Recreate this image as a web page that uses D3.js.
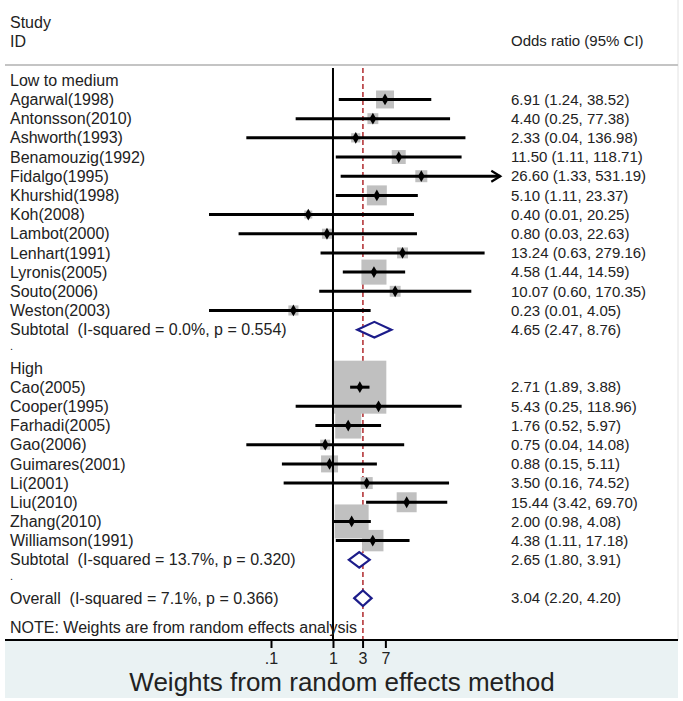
<!DOCTYPE html>
<html>
<head>
<meta charset="utf-8">
<script src="https://cdn.jsdelivr.net/npm/d3@7"></script>
<style>
  html, body { margin: 0; padding: 0; background: #ffffff; }
  svg { display: block; }
  text { font-family: Arial, "Liberation Sans", sans-serif; fill: #222; white-space: pre; }
</style>
</head>
<body>
<svg id="chart" width="683" height="701"></svg>
<script>
// ---------------- data ----------------
const group1Label = "Low to medium";
const group1Studies = ["Agarwal(1998)", "Antonsson(2010)", "Ashworth(1993)", "Benamouzig(1992)", "Fidalgo(1995)", "Khurshid(1998)", "Koh(2008)", "Lambot(2000)", "Lenhart(1991)", "Lyronis(2005)", "Souto(2006)", "Weston(2003)"];
const group1OR  = [6.91, 4.40, 2.33, 11.50, 26.60, 5.10, 0.40, 0.80, 13.24, 4.58, 10.07, 0.23];
const group1Lo  = [1.24, 0.25, 0.04, 1.11, 1.33, 1.11, 0.01, 0.03, 0.63, 1.44, 0.60, 0.01];
const group1Hi  = [38.52, 77.38, 136.98, 118.71, 531.19, 23.37, 20.25, 22.63, 279.16, 14.59, 170.35, 4.05];
const group1Weight = [3.8, 1.4, 1.0, 2.3, 1.7, 4.7, 0.75, 1.2, 1.4, 7.4, 1.4, 1.2];
const group1Subtotal = { label: "Subtotal  (I-squared = 0.0%, p = 0.554)", or: 4.65, lo: 2.47, hi: 8.76 };

const group2Label = "High";
const group2Studies = ["Cao(2005)", "Cooper(1995)", "Farhadi(2005)", "Gao(2006)", "Guimares(2001)", "Li(2001)", "Liu(2010)", "Zhang(2010)", "Williamson(1991)"];
const group2OR  = [2.71, 5.43, 1.76, 0.75, 0.88, 3.50, 15.44, 2.00, 4.38];
const group2Lo  = [1.89, 0.25, 0.52, 0.04, 0.15, 0.16, 3.42, 0.98, 1.11];
const group2Hi  = [3.88, 118.96, 5.97, 14.08, 5.11, 74.52, 69.70, 4.08, 17.18];
const group2Weight = [33.1, 0.75, 8.0, 1.2, 3.4, 1.7, 4.7, 13.6, 5.4];
const group2Subtotal = { label: "Subtotal  (I-squared = 13.7%, p = 0.320)", or: 2.65, lo: 1.80, hi: 3.91 };

const overall = { label: "Overall  (I-squared = 7.1%, p = 0.366)", or: 3.04, lo: 2.20, hi: 4.20 };

const tickValues = [0.1, 1, 3, 7];
const tickLabels = [".1", "1", "3", "7"];
const axisMin = 0.01, axisMax = 500;

const headerLeft = ["Study", "ID"];
const headerRight = "Odds ratio (95% CI)";
const noteText = "NOTE: Weights are from random effects analysis";
const axisTitle = "Weights from random effects method";

// ---------------- build rows ----------------
const fmt = d3.format(".2f");
const rows = [];
rows.push({ type: "group", label: group1Label });
group1Studies.forEach((s, i) => rows.push({ type: "study", label: s, or: group1OR[i], lo: group1Lo[i], hi: group1Hi[i], w: group1Weight[i] }));
rows.push(Object.assign({ type: "diamond" }, group1Subtotal));
rows.push({ type: "blank", label: "." });
rows.push({ type: "group", label: group2Label });
group2Studies.forEach((s, i) => rows.push({ type: "study", label: s, or: group2OR[i], lo: group2Lo[i], hi: group2Hi[i], w: group2Weight[i] }));
rows.push(Object.assign({ type: "diamond" }, group2Subtotal));
rows.push({ type: "blank", label: "." });
rows.push(Object.assign({ type: "diamond" }, overall));

// ---------------- layout ----------------
const svg = d3.select("#chart");
const W = 683, H = 701;
const panelL = 5, panelR = 678, axisY = 640, bottomY = 698;
const leftFont = 16, rightFont = 15;

const x = d3.scaleLog().domain([axisMin, axisMax]).range([209, 500.3]);
const y = d3.scaleLinear().domain([0, rows.length - 1]).range([80.3, 80.3 + 19.18 * (rows.length - 1)]);
const boxSize = d3.scaleSqrt().domain([0, d3.max(group1Weight.concat(group2Weight))]).range([0, 53]);

// background regions
svg.append("rect").attr("x", 0).attr("y", 0).attr("width", W).attr("height", H).attr("fill", "#ffffff");
svg.append("rect").attr("x", panelL).attr("y", axisY).attr("width", panelR - panelL).attr("height", bottomY - axisY).attr("fill", "#eaf2f3");
svg.append("line").attr("x1", panelR).attr("x2", panelR).attr("y1", 0).attr("y2", axisY).attr("stroke", "#e2e2e2").attr("stroke-width", 1);

// header
svg.append("text").attr("x", 10).attr("y", 22).attr("dy", "0.35em").attr("font-size", leftFont).text(headerLeft[0]);
svg.append("text").attr("x", 10).attr("y", 41).attr("dy", "0.35em").attr("font-size", leftFont).text(headerLeft[1]);
svg.append("text").attr("x", 511).attr("y", 41).attr("dy", "0.35em").attr("font-size", rightFont).text(headerRight);
svg.append("line").attr("x1", panelL).attr("x2", panelR).attr("y1", 65).attr("y2", 65).attr("stroke", "#c4c4c4").attr("stroke-width", 2);

const plot = svg.append("g");

// weight boxes
const studyRows = rows.map((r, i) => Object.assign({ idx: i }, r)).filter(r => r.type === "study");
plot.selectAll("rect.box").data(studyRows).enter().append("rect")
  .attr("class", "box")
  .attr("x", d => x(d.or) - boxSize(d.w) / 2)
  .attr("y", d => y(d.idx) - boxSize(d.w) / 2)
  .attr("width", d => boxSize(d.w))
  .attr("height", d => boxSize(d.w))
  .attr("fill", "#c0c0c0");

// reference line at overall estimate (boxes drawn over it)
const refTop = 68;
plot.insert("line", "rect.box")
  .attr("x1", x(overall.or)).attr("x2", x(overall.or))
  .attr("y1", refTop).attr("y2", axisY)
  .attr("stroke", "#b5363a").attr("stroke-width", 1.6).attr("stroke-dasharray", "5,3");

// null line at 1
plot.append("line")
  .attr("x1", x(1)).attr("x2", x(1))
  .attr("y1", refTop).attr("y2", axisY)
  .attr("stroke", "#000").attr("stroke-width", 2);

// CI lines
plot.selectAll("line.ci").data(studyRows).enter().append("line")
  .attr("class", "ci")
  .attr("x1", d => x(Math.max(d.lo, axisMin)))
  .attr("x2", d => x(Math.min(d.hi, axisMax)))
  .attr("y1", d => y(d.idx)).attr("y2", d => y(d.idx))
  .attr("stroke", "#000").attr("stroke-width", 3);

// arrows for clipped CIs
studyRows.filter(d => d.hi > axisMax).forEach(d => {
  const xe = x(axisMax), yy = y(d.idx);
  plot.append("path")
    .attr("d", `M${xe - 9},${yy - 5.5}L${xe},${yy}L${xe - 9},${yy + 5.5}`)
    .attr("fill", "none").attr("stroke", "#000").attr("stroke-width", 2.2);
});

// point markers
plot.selectAll("path.pt").data(studyRows).enter().append("path")
  .attr("class", "pt")
  .attr("transform", d => `translate(${x(d.or)},${y(d.idx)})`)
  .attr("d", d3.symbol().type(d3.symbolDiamond).size(40))
  .attr("fill", "#000");

// diamonds
const diamondRows = rows.map((r, i) => Object.assign({ idx: i }, r)).filter(r => r.type === "diamond");
plot.selectAll("path.dia").data(diamondRows).enter().append("path")
  .attr("class", "dia")
  .attr("d", d => {
    const yy = y(d.idx), h = 7.8;
    return `M${x(d.lo)},${yy}L${x(d.or)},${yy - h}L${x(d.hi)},${yy}L${x(d.or)},${yy + h}Z`;
  })
  .attr("fill", "#fff").attr("stroke", "#1c1c8a").attr("stroke-width", 2.2);

// left labels
const allRows = rows.map((r, i) => Object.assign({ idx: i }, r));
svg.selectAll("text.lab").data(allRows.filter(r => r.type !== "blank")).enter().append("text")
  .attr("class", "lab")
  .attr("x", 10)
  .attr("y", d => y(d.idx))
  .attr("dy", "0.35em")
  .attr("font-size", leftFont)
  .text(d => d.label);

// blank-row dots (small, sitting low in their row)
svg.selectAll("text.dot").data(allRows.filter(r => r.type === "blank")).enter().append("text")
  .attr("class", "dot")
  .attr("x", 10)
  .attr("y", d => y(d.idx) + 1.5)
  .attr("font-size", 11)
  .text(d => d.label);

// right labels
svg.selectAll("text.est").data(allRows.filter(r => r.type === "study" || r.type === "diamond")).enter().append("text")
  .attr("class", "est")
  .attr("x", 511)
  .attr("y", d => y(d.idx))
  .attr("dy", "0.35em")
  .attr("font-size", rightFont)
  .text(d => `${fmt(d.or)} (${fmt(d.lo)}, ${fmt(d.hi)})`);

// note
svg.append("text").attr("x", 10).attr("y", 627).attr("dy", "0.35em").attr("font-size", leftFont).text(noteText);

// axis
svg.append("line").attr("x1", panelL).attr("x2", panelR).attr("y1", axisY).attr("y2", axisY).attr("stroke", "#000").attr("stroke-width", 2);
const axis = d3.axisBottom(x).tickValues(tickValues).tickFormat((d, i) => tickLabels[i]).tickSize(8).tickPadding(5);
const gAxis = svg.append("g").attr("transform", `translate(0,${axisY})`).call(axis);
gAxis.select(".domain").remove();
gAxis.selectAll(".tick line").attr("stroke", "#000").attr("stroke-width", 2);
gAxis.selectAll(".tick text").attr("font-size", 16).attr("fill", "#222").style("font-family", "Arial, 'Liberation Sans', sans-serif");

svg.append("text").attr("x", 342).attr("y", 682).attr("dy", "0.35em").attr("text-anchor", "middle").attr("font-size", 26).text(axisTitle);
</script>
</body>
</html>
